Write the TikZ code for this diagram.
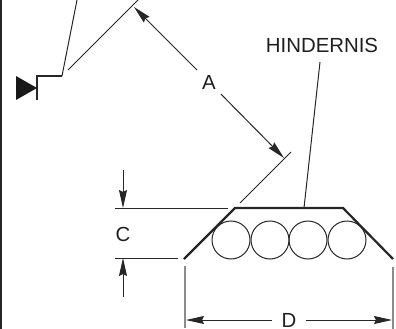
\documentclass[tikz,border=0pt]{standalone}
\usepackage{fontspec}
\setmainfont{Liberation Sans}
\usetikzlibrary{arrows.meta}
\begin{document}
\begin{tikzpicture}[x=1pt,y=-1pt,
    thinline/.style={draw=black!85,line width=1pt},
    greyline/.style={draw=black!45,line width=1.2pt},
    thickline/.style={draw=black!85,line width=2.2pt,line join=miter},
    dimarrow/.style={thinline,-{Stealth[length=18pt,width=8pt,inset=2pt]}},
    label/.style={font=\fontsize{20.4}{20.4}\selectfont,text=black!88}]
    \useasboundingbox (0,0) rectangle (396,329);
    \coordinate (borderTop) at (0.7,0);
    \coordinate (borderBottom) at (0.7,329);
    \draw[draw=black!85,line width=1.6pt] (borderTop) -- (borderBottom);
    % weld symbol
    \coordinate (leaderTop) at (77,0);
    \coordinate (leaderKnee) at (62,76);
    \coordinate (flagTop) at (37,76);
    \coordinate (flagBottom) at (37,100);
    \coordinate (markTop) at (16,76);
    \coordinate (markTip) at (37,88);
    \coordinate (markBottom) at (16,100);
    \draw[thinline] (leaderTop) -- (leaderKnee);
    \draw[draw=black!85,line width=1.3pt] (leaderKnee) -- (flagTop) -- (flagBottom);
    \fill[black!90] (markTop) -- (markTip) -- (markBottom) -- cycle;
    % dimension A
    \node[label,inner sep=5pt] (labelA) at (209,82) {A};
    \coordinate (faceUpperA) at (68,70);
    \coordinate (faceUpperB) at (138,0);
    \coordinate (faceLowerA) at (240,203);
    \coordinate (faceLowerB) at (291,152);
    \coordinate (tipUpper) at (134,7);
    \coordinate (tipLower) at (284,158);
    \draw[thinline] (faceUpperA) -- (faceUpperB);
    \draw[thinline] (faceLowerA) -- (faceLowerB);
    \draw[dimarrow] (labelA) -- (tipUpper);
    \draw[dimarrow] (labelA) -- (tipLower);
    % obstacle
    \foreach \cx/\name in {231/one,270/two,308/three,347/four} {
      \node[circle,thinline,minimum size=38pt,inner sep=0pt] (pipe\name) at (\cx,240) {};
    }
    \coordinate (coverLeft) at (184,259);
    \coordinate (coverTopLeft) at (235,208);
    \coordinate (coverTopRight) at (343,208);
    \coordinate (coverRight) at (393,259);
    \draw[thickline] (coverLeft) -- (coverTopLeft) -- (coverTopRight) -- (coverRight);
    % obstacle label
    \node[label,inner sep=0pt] (labelObstacle) at (322,45) {HINDERNIS};
    \coordinate (obstacleFrom) at (320,62);
    \coordinate (obstacleTo) at (304,208);
    \draw[thinline] (obstacleFrom) -- (obstacleTo);
    % dimension C
    \node[label,inner sep=0pt] (labelC) at (123,234) {C};
    \coordinate (extTopA) at (115,208.5);
    \coordinate (extTopB) at (228,208.5);
    \coordinate (extLowA) at (115,258);
    \coordinate (extLowB) at (178,258);
    \coordinate (arrowTopFrom) at (123,170);
    \coordinate (arrowTopTo) at (123,208);
    \coordinate (arrowLowFrom) at (123,297);
    \coordinate (arrowLowTo) at (123,258);
    \draw[thinline] (extTopA) -- (extTopB);
    \draw[thinline] (extLowA) -- (extLowB);
    \draw[dimarrow] (arrowTopFrom) -- (arrowTopTo);
    \draw[dimarrow] (arrowLowFrom) -- (arrowLowTo);
    % dimension D
    \node[label,inner xsep=9pt,inner ysep=0pt] (labelD) at (289,320) {D};
    \coordinate (extLeftA) at (185,266);
    \coordinate (extLeftB) at (185,328);
    \coordinate (extRightA) at (393,267);
    \coordinate (extRightB) at (393,329);
    \coordinate (tipLeft) at (186,320);
    \coordinate (tipRight) at (392,320);
    \draw[greyline] (extLeftA) -- (extLeftB);
    \draw[greyline] (extRightA) -- (extRightB);
    \draw[dimarrow] (labelD) -- (tipLeft);
    \draw[dimarrow] (labelD) -- (tipRight);
\end{tikzpicture}
\end{document}
